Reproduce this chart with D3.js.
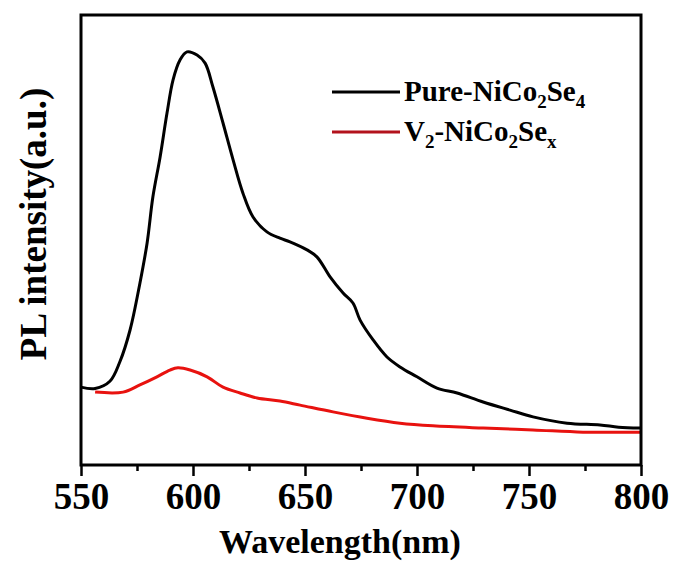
<!DOCTYPE html>
<html>
<head>
<meta charset="utf-8">
<script src="https://cdn.jsdelivr.net/npm/d3@7.9.0/dist/d3.min.js"></script>
<style>
  html, body { margin: 0; padding: 0; background: #fff; }
  svg { display: block; }
  text { font-family: "Liberation Serif", "Times New Roman", serif; font-weight: bold; fill: #000; }
</style>
</head>
<body>
<div id="chart"></div>
<script>
// values (wavelength in nm, intensity in a.u.)
const pureWave = [550, 556.3, 562.9, 567.4, 571.9, 576.3, 579.5, 582.1, 585.3, 588.4, 591.1, 594.2, 597.3, 601.8, 605.4, 608.9, 613.4, 617.9, 622.3, 626.8, 633.0, 638.8, 643.3, 650.9, 655.4, 661.2, 667.0, 671.4, 674.6, 680.4, 686.6, 692.4, 700.0, 708.9, 717.9, 729.5, 741.5, 751.8, 767.0, 781.7, 790.0, 799.6];
const pureInt = [173, 170, 186, 230, 300, 404, 493, 596, 684, 782, 856, 900, 918, 911, 893, 840, 760, 678, 604, 551, 518, 504, 496, 478, 462, 418, 382, 360, 322, 278, 240, 218, 196, 171, 160, 140, 122, 107, 93, 89, 84, 82];

const vWave = [556.3, 568.8, 576.3, 583.9, 589.7, 593.3, 598.7, 606.3, 613.4, 621.0, 628.6, 638.8, 647.8, 662.5, 677.7, 692.4, 707.1, 729.5, 751.8, 774.1, 799.6];
const vInt = [162, 162, 178, 196, 211, 216, 211, 196, 173, 160, 149, 142, 133, 118, 104, 93, 87, 82, 78, 73, 73];

const xTicks = [550, 600, 650, 700, 750, 800];
const xMinor = [575, 625, 675, 725, 775];

const width = 674;
const height = 566;
const plot = { left: 81, right: 641, top: 15, bottom: 465 };

const svg = d3.select('#chart').append('svg')
  .attr('width', width)
  .attr('height', height);

const x = d3.scaleLinear().domain([550, 800]).range([plot.left, plot.right]);
const y = d3.scaleLinear().domain([0, 1000]).range([plot.bottom, plot.top]);

// minor ticks
svg.append('g')
  .attr('transform', `translate(0,${plot.bottom})`)
  .call(d3.axisBottom(x).tickValues(xMinor).tickSize(6).tickFormat(''))
  .call(g => g.select('.domain').remove())
  .call(g => g.selectAll('line').attr('stroke', '#000').attr('stroke-width', 2.5));

// major ticks + labels
svg.append('g')
  .attr('transform', `translate(0,${plot.bottom})`)
  .call(d3.axisBottom(x).tickValues(xTicks).tickSize(11).tickPadding(7))
  .call(g => g.select('.domain').remove())
  .call(g => g.selectAll('line').attr('stroke', '#000').attr('stroke-width', 2.5))
  .call(g => g.selectAll('text')
    .attr('font-size', 37)
    .attr('font-family', '"Liberation Serif", serif')
    .attr('font-weight', 'bold')
    .attr('fill', '#000'));

const line = d3.line()
  .curve(d3.curveCatmullRom.alpha(0.5))
  .x(d => x(d[0]))
  .y(d => y(d[1]));

svg.append('path')
  .datum(d3.zip(vWave, vInt))
  .attr('fill', 'none')
  .attr('stroke', '#e8120f')
  .attr('stroke-width', 3)
  .attr('stroke-linejoin', 'round')
  .attr('d', line);

svg.append('path')
  .datum(d3.zip(pureWave, pureInt))
  .attr('fill', 'none')
  .attr('stroke', '#000')
  .attr('stroke-width', 3)
  .attr('stroke-linejoin', 'round')
  .attr('d', line);

// frame
svg.append('rect')
  .attr('x', plot.left)
  .attr('y', plot.top)
  .attr('width', plot.right - plot.left)
  .attr('height', plot.bottom - plot.top)
  .attr('fill', 'none')
  .attr('stroke', '#000')
  .attr('stroke-width', 3);

// axis titles
svg.append('text')
  .attr('x', 340)
  .attr('y', 553)
  .attr('text-anchor', 'middle')
  .attr('font-size', 34)
  .text('Wavelength(nm)');

svg.append('text')
  .attr('transform', 'translate(46,224) rotate(-90)')
  .attr('text-anchor', 'middle')
  .attr('font-size', 37)
  .text('PL intensity(a.u.)');

// legend
const legend = [
  { color: '#000', parts: [['Pure-NiCo', 0], ['2', 1], ['Se', 0], ['4', 1]] },
  { color: '#b3121c', parts: [['V', 0], ['2', 1], ['-NiCo', 0], ['2', 1], ['Se', 0], ['x', 1]] }
];

legend.forEach((item, i) => {
  const ly = 92 + i * 40;
  svg.append('line')
    .attr('x1', 332).attr('x2', 400)
    .attr('y1', ly).attr('y2', ly)
    .attr('stroke', item.color)
    .attr('stroke-width', 3);
  const t = svg.append('text')
    .attr('x', 404)
    .attr('y', ly + 9)
    .attr('font-size', 29);
  let sub = false;
  item.parts.forEach(([s, isSub]) => {
    const ts = t.append('tspan').text(s);
    if (isSub && !sub) ts.attr('dy', 7).attr('font-size', 19);
    if (!isSub && sub) ts.attr('dy', -7);
    if (isSub && sub) ts.attr('font-size', 19);
    sub = !!isSub;
  });
});
</script>
</body>
</html>
